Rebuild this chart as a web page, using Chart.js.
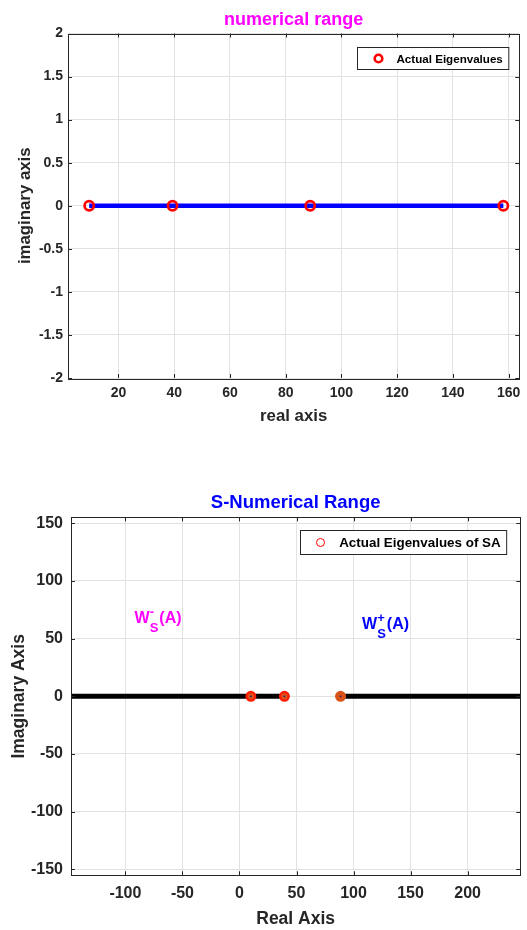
<!DOCTYPE html>
<html>
<head>
<meta charset="utf-8">
<title>numerical range / S-numerical range</title>
<script src="https://cdn.jsdelivr.net/npm/chart.js@4.4.1/dist/chart.umd.min.js"></script>
<style>
  html, body { margin: 0; padding: 0; background: #fff; }
  .panel { position: absolute; left: 0; width: 527px; }
  #top { top: 0; height: 430px; }
  #bottom { top: 430px; height: 500px; }
</style>
</head>
<body>
<div class="panel" id="top"><canvas id="nr" width="527" height="430"></canvas></div>
<div class="panel" id="bottom"><canvas id="snr" width="527" height="500"></canvas></div>
<script>
// top plot: eigenvalues of A, all real
const eigA = [9.5, 39.4, 88.8, 158.1];
const topXTicks = [20, 40, 60, 80, 100, 120, 140, 160];
const topYTicks = [-2, -1.5, -1, -0.5, 0, 0.5, 1, 1.5, 2];

// bottom plot: eigenvalues of SA and the two pieces of W_S(A) on the real axis
const eigSA = [10, 39.4, 88.6];
const wMinus = [-160, 39.4];
const wPlus = [88.6, 260];
const botXTicks = [-100, -50, 0, 50, 100, 150, 200];
const botYTicks = [-150, -100, -50, 0, 50, 100, 150];

const FONT = "'Liberation Sans', Arial, Helvetica, sans-serif";
const AXIS_COLOR = '#262626';
const GRID_COLOR = '#e2e2e2';

const onAxis = vals => vals.map(v => ({ x: v, y: 0 }));

// MATLAB-ish decorations: box with inward ticks, title over the axes,
// boxed legend inside the axes and TeX-like text labels
const matlabLook = {
  id: 'matlabLook',
  afterDatasetsDraw(chart) {
    const { ctx, chartArea: a, scales } = chart;
    ctx.save();
    ctx.strokeStyle = AXIS_COLOR;
    ctx.lineWidth = 1;
    ctx.beginPath();
    scales.x.ticks.forEach(t => {
      const px = Math.round(scales.x.getPixelForValue(t.value)) + 0.5;
      ctx.moveTo(px, a.bottom); ctx.lineTo(px, a.bottom - 4);
      ctx.moveTo(px, a.top); ctx.lineTo(px, a.top + 4);
    });
    scales.y.ticks.forEach(t => {
      const py = Math.round(scales.y.getPixelForValue(t.value)) + 0.5;
      ctx.moveTo(a.left, py); ctx.lineTo(a.left + 4, py);
      ctx.moveTo(a.right, py); ctx.lineTo(a.right - 4, py);
    });
    ctx.stroke();
    ctx.strokeRect(Math.round(a.left) + 0.5, Math.round(a.top) + 0.5,
      Math.round(a.right - a.left), Math.round(a.bottom - a.top));
    ctx.restore();
  },
  afterDraw(chart, args, opts) {
    const { ctx, chartArea: a, scales } = chart;
    ctx.save();

    // title
    ctx.font = `bold ${opts.titleSize}px ${FONT}`;
    ctx.fillStyle = opts.titleColor;
    ctx.textAlign = 'center';
    ctx.textBaseline = 'middle';
    ctx.fillText(opts.title, (a.left + a.right) / 2, a.top - opts.titleGap);

    // legend
    const lg = opts.legend;
    ctx.font = `bold ${lg.fontSize}px ${FONT}`;
    const tw = ctx.measureText(lg.label).width;
    const w = lg.textIndent + tw + 6;
    const x0 = Math.round(a.right - lg.right - w) + 0.5;
    const y0 = Math.round(a.top + lg.top) + 0.5;
    ctx.fillStyle = '#fff';
    ctx.fillRect(x0, y0, w, lg.height);
    ctx.strokeStyle = AXIS_COLOR;
    ctx.lineWidth = 1;
    ctx.strokeRect(x0, y0, w, lg.height);
    ctx.beginPath();
    ctx.arc(x0 + lg.markerIndent, y0 + lg.height / 2, lg.markerRadius, 0, Math.PI * 2);
    ctx.strokeStyle = '#ff0000';
    ctx.lineWidth = lg.markerWidth;
    ctx.stroke();
    ctx.fillStyle = '#000';
    ctx.textAlign = 'left';
    ctx.textBaseline = 'middle';
    ctx.fillText(lg.label, x0 + lg.textIndent, y0 + lg.height / 2 + 1);

    // TeX style labels like W_S^+(A)
    (opts.labels || []).forEach(l => {
      let x = scales.x.getPixelForValue(l.x);
      const y = scales.y.getPixelForValue(l.y);
      ctx.fillStyle = l.color;
      ctx.textBaseline = 'alphabetic';
      ctx.textAlign = 'left';
      ctx.font = `bold 16px ${FONT}`;
      ctx.fillText(l.base, x, y);
      x += ctx.measureText(l.base).width;
      ctx.font = `bold 13px ${FONT}`;
      ctx.fillText(l.sup, x, y - 7);
      ctx.fillText(l.sub, x, y + 9);
      x += Math.max(ctx.measureText(l.sup).width, ctx.measureText(l.sub).width);
      ctx.font = `bold 16px ${FONT}`;
      ctx.fillText(l.tail, x + 1, y);
    });
    ctx.restore();
  }
};

function linearAxis(tickVals, min, max, o) {
  return {
    type: 'linear',
    min: min,
    max: max,
    afterBuildTicks: scale => { scale.ticks = tickVals.map(v => ({ value: v })); },
    afterFit: scale => {
      if (o.width) scale.width = o.width;
      if (o.height) scale.height = o.height;
    },
    border: { display: false },
    grid: { color: GRID_COLOR, lineWidth: 1, drawTicks: false },
    ticks: {
      color: AXIS_COLOR,
      padding: o.tickPad,
      maxRotation: 0,
      autoSkip: false,
      font: { family: FONT, size: o.tickSize, weight: 'bold' },
      callback: v => String(v)
    },
    title: {
      display: true,
      text: o.title,
      color: AXIS_COLOR,
      font: { family: FONT, size: o.titleSize, weight: 'bold' },
      padding: o.titlePad
    }
  };
}

// ---- numerical range of A ----
new Chart(document.getElementById('nr'), {
  type: 'scatter',
  data: {
    datasets: [
      {
        label: 'Actual Eigenvalues',
        data: onAxis(eigA),
        showLine: false,
        pointRadius: 4.6,
        pointBorderWidth: 2.7,
        pointBorderColor: '#ff0000',
        pointBackgroundColor: 'rgba(0,0,0,0)'
      },
      {
        label: 'numerical range',
        data: onAxis(eigA),
        showLine: true,
        borderColor: '#0000ff',
        borderWidth: 4.3,
        pointRadius: 0
      }
    ]
  },
  plugins: [matlabLook],
  options: {
    responsive: false,
    animation: false,
    layout: { padding: { top: 33.5, right: 5, left: 0, bottom: 0 } },
    scales: {
      x: linearAxis(topXTicks, 1.9, 163.8, {
        height: 52, tickPad: 6.5, tickSize: 14,
        title: 'real axis', titleSize: 16.8, titlePad: { top: 0, bottom: 4 }
      }),
      y: linearAxis(topYTicks, -2, 2, {
        width: 68, tickPad: 5, tickSize: 14,
        title: 'imaginary axis', titleSize: 16.8, titlePad: { top: 15, bottom: 0 }
      })
    },
    plugins: {
      legend: { display: false },
      tooltip: { enabled: false },
      matlabLook: {
        title: 'numerical range', titleColor: '#ff00ff', titleSize: 18, titleGap: 13.5,
        legend: {
          label: 'Actual Eigenvalues', fontSize: 11.6, right: 11, top: 13.5, height: 22,
          markerIndent: 21, textIndent: 39, markerRadius: 3.8, markerWidth: 2.6
        }
      }
    }
  }
});

// ---- S-numerical range ----
new Chart(document.getElementById('snr'), {
  type: 'scatter',
  data: {
    datasets: [
      {
        label: 'centre',
        data: onAxis(eigSA),
        showLine: false,
        pointRadius: 0.9,
        pointBorderWidth: 0,
        pointBackgroundColor: '#1a1a80'
      },
      {
        label: 'Actual Eigenvalues of SA',
        data: onAxis(eigSA),
        showLine: false,
        pointRadius: 4.3,
        pointBorderWidth: 2.4,
        pointBackgroundColor: '#d95319',
        pointBorderColor: ctx => (ctx.dataIndex < 2 ? '#ff1a00' : '#d95319')
      },
      {
        label: 'W_S^-(A)',
        data: onAxis(wMinus),
        showLine: true,
        borderColor: '#000',
        borderWidth: 5,
        pointRadius: 0
      },
      {
        label: 'W_S^+(A)',
        data: onAxis(wPlus),
        showLine: true,
        borderColor: '#000',
        borderWidth: 5,
        pointRadius: 0
      }
    ]
  },
  plugins: [matlabLook],
  options: {
    responsive: false,
    animation: false,
    layout: { padding: { top: 87.3, right: 5, left: 0, bottom: 0 } },
    scales: {
      x: linearAxis(botXTicks, -147.7, 246.2, {
        height: 54.7, tickPad: 8.4, tickSize: 16,
        title: 'Real Axis', titleSize: 17.5, titlePad: { top: 0, bottom: 0 }
      }),
      y: linearAxis(botYTicks, -155.2, 155.2, {
        width: 71, tickPad: 8, tickSize: 16,
        title: 'Imaginary Axis', titleSize: 17.5, titlePad: { top: 8.5, bottom: 0 }
      })
    },
    plugins: {
      legend: { display: false },
      tooltip: { enabled: false },
      matlabLook: {
        title: 'S-Numerical Range', titleColor: '#0000ff', titleSize: 18.5, titleGap: 14.6,
        legend: {
          label: 'Actual Eigenvalues of SA', fontSize: 13.4, right: 14, top: 13, height: 24,
          markerIndent: 20, textIndent: 38.7, markerRadius: 4, markerWidth: 1
        },
        labels: [
          { base: 'W', sup: '-', sub: 'S', tail: '(A)', x: -92, y: 63.5, color: '#ff00ff' },
          { base: 'W', sup: '+', sub: 'S', tail: '(A)', x: 107.5, y: 58.5, color: '#0000ff' }
        ]
      }
    }
  }
});
</script>
</body>
</html>
